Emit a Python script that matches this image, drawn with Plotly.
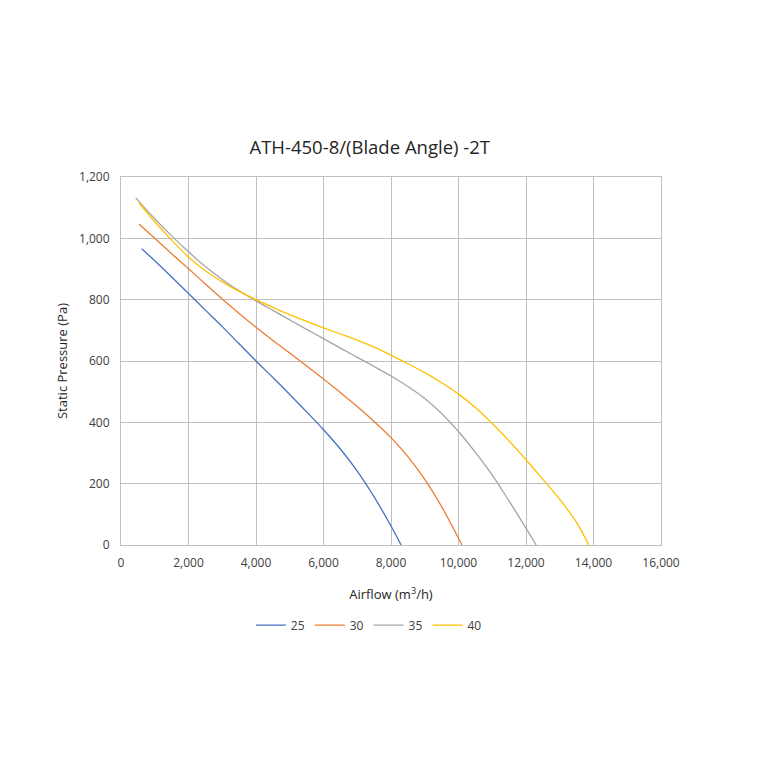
import plotly.graph_objects as go

# fan curves, airflow m3/h vs static pressure Pa
flow_25 = [613, 1000, 1500, 2000, 2500, 3000, 3500, 4000, 4500, 5000, 5500, 6000,
           6500, 7000, 7500, 8000, 8300]
pres_25 = [966, 927, 874, 820, 766, 712, 656, 600, 546, 491, 434, 376,
           313, 241, 157, 62, 0]

flow_30 = [533, 1000, 1500, 2000, 2500, 3000, 3500, 4000, 4500, 5000, 5500, 6000,
           6500, 7000, 7500, 8000, 8500, 9000, 9500, 10000, 10100]
pres_30 = [1047, 1000, 950, 901, 851, 802, 755, 710, 667, 626, 584, 541,
           497, 452, 403, 350, 288, 214, 125, 22, 0]

flow_35 = [435, 1000, 1500, 2000, 2500, 3000, 3500, 4000, 4500, 5000, 5500, 6000,
           6500, 7000, 7500, 8000, 8500, 9000, 9500, 10000, 10500, 11000, 11500, 12000, 12300]
pres_35 = [1132, 1064, 1008, 956, 908, 866, 829, 796, 765, 734, 703, 673,
           642, 612, 582, 551, 517, 478, 429, 370, 302, 228, 143, 55, 0]

flow_40 = [533, 1000, 1500, 2000, 2500, 3000, 3500, 4000, 4500, 5000, 5500, 6000,
           6500, 7000, 7500, 8000, 8500, 9000, 9500, 10000, 10500, 11000, 11500, 12000,
           12500, 13000, 13500, 13860]
pres_40 = [1116, 1054, 994, 939, 894, 858, 827, 800, 775, 751, 729, 708,
           688, 668, 645, 619, 591, 562, 529, 492, 448, 396, 339, 278,
           214, 149, 73, 0]

series = [
    ("25", flow_25, pres_25, "#4472C4"),
    ("30", flow_30, pres_30, "#ED7D31"),
    ("35", flow_35, pres_35, "#A5A5A5"),
    ("40", flow_40, pres_40, "#FFC000"),
]

fig = go.Figure()
for name, xs, ys, col in series:
    fig.add_trace(go.Scatter(x=xs, y=ys, name=name, mode="lines",
                             line=dict(color=col, width=1.3, shape="spline", smoothing=1.0)))

fig.update_layout(
    width=760, height=760,
    paper_bgcolor="white", plot_bgcolor="white",
    font=dict(family="Open Sans, Liberation Sans, sans-serif", size=12, color="#404040"),
    margin=dict(l=113, r=107, t=169, b=223),
    title=dict(text="ATH-450-8/(Blade Angle) -2T", x=0.476, xanchor="center",
               y=0.816, yanchor="middle", font=dict(size=18.5, color="#262626")),
    legend=dict(orientation="h", x=0.459, xanchor="center", y=-0.218, yanchor="middle",
                font=dict(size=12, color="#404040"), itemwidth=30),
    showlegend=True,
)
fig.update_xaxes(range=[0, 16000], dtick=2000, tickformat=",", showgrid=True,
                 gridcolor="#BFBFBF", gridwidth=1, showline=True, linecolor="#BFBFBF",
                 mirror=True, zeroline=False, ticks="", ticklabelstandoff=7,
                 title=dict(text="Airflow (m<sup>3</sup>/h)", standoff=19,
                            font=dict(size=13, color="#262626")))
fig.update_yaxes(range=[0, 1200], dtick=200, tickformat=",", showgrid=True,
                 gridcolor="#BFBFBF", gridwidth=1, showline=True, linecolor="#BFBFBF",
                 mirror=True, zeroline=False, ticks="", ticklabelstandoff=8,
                 title=dict(text="Static Pressure (Pa)", standoff=8,
                            font=dict(size=13, color="#262626")))

fig.write_html("out.html")
